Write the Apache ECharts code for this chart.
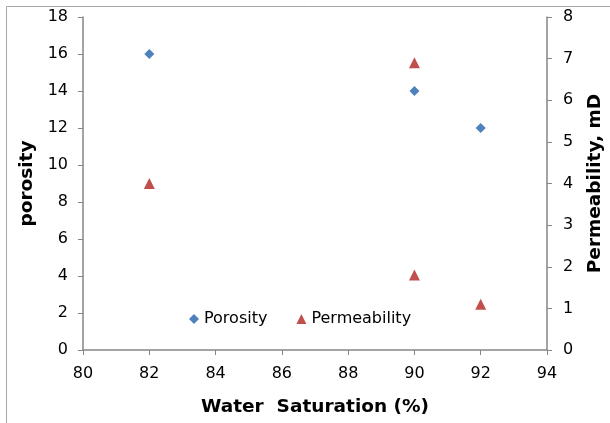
<!DOCTYPE html>
<html lang="en">
<head>
    <meta charset="UTF-8">
    <title>Water Saturation</title>
    <style>
        html, body { margin: 0; padding: 0; background: #fff; }
        #main { width: 610px; height: 423px; }
    </style>
</head>
<body>
    <div id="main"></div>
<script type="text/javascript" src="https://cdn.jsdelivr.net/npm/echarts@6/dist/echarts.min.js"></script>
<script type="text/javascript">
    // water saturation (%) for each sample
    var porosityX = [82, 90, 92];
    var porosity = [16, 14, 12];
    var permX = [82, 90, 90, 92];
    var permeability = [4.0, 6.9, 1.8, 1.1];

    var font = 'DejaVu Sans';
    var axisColor = '#868686';

    function pairs(xs, ys) {
        var out = [];
        for (var i = 0; i < xs.length; i++) out.push([xs[i], ys[i]]);
        return out;
    }

    var myChart = echarts.init(document.getElementById('main'));

    var titleStyle = { fontFamily: font, fontSize: 18.5, fontWeight: 'bold', color: '#000' };

    var option = {
        backgroundColor: '#fff',
        animation: false,
        textStyle: { fontFamily: font },
        graphic: [{
            type: 'rect',
            shape: { x: 6.5, y: 6.5, width: 700, height: 500 },
            style: { fill: 'none', stroke: '#a6a6a6', lineWidth: 1 },
            silent: true
        }],
        grid: { left: 83, right: 63, top: 17, bottom: 73, outerBoundsMode: 'none', containLabel: false },
        legend: {
            left: 184,
            top: 306,
            itemGap: 29,
            itemWidth: 10,
            itemHeight: 10,
            textStyle: { fontFamily: font, fontSize: 16, color: '#000' },
            data: [
                { name: 'Porosity', icon: 'diamond' },
                { name: 'Permeability', icon: 'triangle' }
            ]
        },
        xAxis: {
            type: 'value',
            min: 80, max: 94, interval: 2,
            name: 'Water  Saturation (%)',
            nameLocation: 'middle',
            nameGap: 48,
            nameTextStyle: titleStyle,
            axisLine: { show: true, lineStyle: { color: axisColor, width: 1.5 } },
            axisTick: { show: true, length: 5, lineStyle: { color: axisColor } },
            axisLabel: { fontFamily: font, fontSize: 16, color: '#000', margin: 16 },
            splitLine: { show: false }
        },
        yAxis: [{
            type: 'value',
            min: 0, max: 18, interval: 2,
            name: 'porosity',
            nameLocation: 'middle',
            nameRotate: 90,
            nameGap: 44,
            nameTextStyle: titleStyle,
            axisLine: { show: true, lineStyle: { color: axisColor, width: 1.5 } },
            axisTick: { show: true, length: 5, lineStyle: { color: axisColor } },
            axisLabel: { fontFamily: font, fontSize: 16, color: '#000', margin: 15 },
            splitLine: { show: false }
        }, {
            type: 'value',
            position: 'right',
            min: 0, max: 8, interval: 1,
            name: 'Permeability, mD',
            nameLocation: 'middle',
            nameRotate: 90,
            nameGap: 39,
            nameTextStyle: titleStyle,
            axisLine: { show: true, lineStyle: { color: axisColor, width: 1.5 } },
            axisTick: { show: true, length: 5, lineStyle: { color: axisColor } },
            axisLabel: { fontFamily: font, fontSize: 16, color: '#000', margin: 16 },
            splitLine: { show: false }
        }],
        series: [{
            name: 'Porosity',
            type: 'scatter',
            yAxisIndex: 0,
            symbol: 'diamond',
            symbolSize: 10,
            itemStyle: { color: '#4F81BD', opacity: 1 },
            data: pairs(porosityX, porosity)
        }, {
            name: 'Permeability',
            type: 'scatter',
            yAxisIndex: 1,
            symbol: 'triangle',
            symbolSize: 11,
            itemStyle: { color: '#C0504D', opacity: 1 },
            data: pairs(permX, permeability)
        }]
    };
    myChart.setOption(option);
</script>
</body>
</html>
